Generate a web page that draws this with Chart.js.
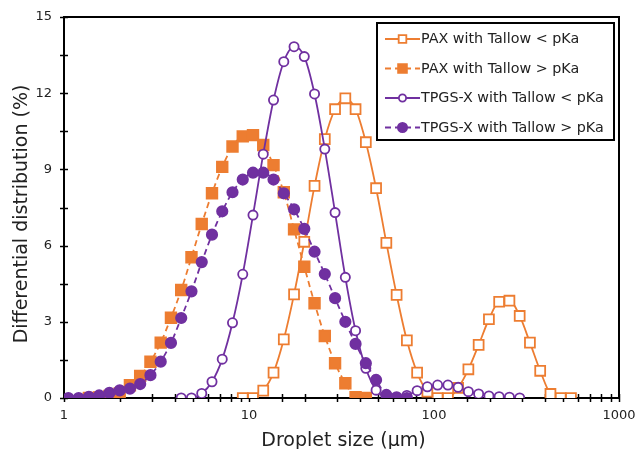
<!DOCTYPE html>
<html><head><meta charset="utf-8">
<script src="https://cdn.jsdelivr.net/npm/chart.js@4/dist/chart.umd.min.js"></script>
<style>html,body{margin:0;padding:0;background:#fff}</style>
</head><body>
<canvas id="c" width="638" height="449"></canvas>
<script>
// Droplet size bin centres (µm)
const sizes = [1.056,1.200,1.363,1.549,1.760,2.000,2.272,2.581,2.933,3.332,3.786,4.301,4.887,5.553,6.309,7.168,8.144,9.252,10.51,11.94,13.57,15.42,17.52,19.90,22.61,25.69,29.19,33.17,37.67,42.81,48.64,55.26,62.79,71.34,81.05,92.07,104.6,118.9,135.0,153.4,174.3,198.1,225.0,255.7,290.5,330.0,375.0,426.1,484.1,550.0];

const paxBelow = [null,null,null,null,null,null,null,null,null,null,null,null,null,null,null,null,null,
  0,0,0.29,1.0,2.31,4.08,6.15,8.35,10.19,11.37,11.8,11.37,10.07,8.26,6.11,4.06,2.27,1.0,0.25,0,0,0.4,1.13,2.09,3.1,3.79,3.83,3.23,2.18,1.07,0.16,0,0];
const paxAbove = [null,null,
  0,0.02,0.08,0.18,0.5,0.87,1.43,2.18,3.16,4.25,5.54,6.85,8.06,9.1,9.9,10.3,10.35,9.96,9.17,8.1,6.64,5.17,3.73,2.44,1.37,0.58,0.03,0,
  null,null,null,null,null,null,null,null,null,null,null,null,null,null,null,null,null,null,null,null];
const tpgsBelow = [null,null,null,null,null,null,null,null,null,null,null,
  0,0,0.18,0.64,1.53,2.96,4.87,7.2,9.6,11.73,13.24,13.83,13.44,11.97,9.8,7.3,4.75,2.65,1.17,0.31,0.05,0.02,0.1,0.29,0.44,0.51,0.51,0.42,0.25,0.16,0.08,0.05,0.03,0,
  null,null,null,null,null];
const tpgsAbove = [0,0,0.05,0.1,0.2,0.3,0.37,0.55,0.9,1.43,2.17,3.15,4.2,5.35,6.43,7.35,8.1,8.6,8.87,8.87,8.6,8.06,7.43,6.66,5.76,4.88,3.93,3.0,2.13,1.37,0.71,0.12,0.03,0,
  null,null,null,null,null,null,null,null,null,null,null,null,null,null,null,null];

const seriesNames = ['PAX with Tallow < pKa','PAX with Tallow > pKa','TPGS-X with Tallow < pKa','TPGS-X with Tallow > pKa'];
const xTickLabels = [1,10,100,1000];
const yTicks = [0,3,6,9,12,15];
const xTitle = 'Droplet size (\u00b5m)';
const yTitle = 'Differential distribution (%)';

const ORANGE = '#ED7D31', PURPLE = '#7030A0';
const FONT = "'DejaVu Sans', Verdana, sans-serif";

function pts(arr){ return sizes.map((s,i)=>({x:s,y:arr[i]})); }

const styles = [
  {c:ORANGE, dash:[], ps:'rect', r:7, fill:'#fff', order:4},
  {c:ORANGE, dash:[6,4], ps:'rect', r:7.5, fill:ORANGE, order:3},
  {c:PURPLE, dash:[], ps:'circle', r:4.6, fill:'#fff', order:2},
  {c:PURPLE, dash:[6,4], ps:'circle', r:5.2, fill:PURPLE, order:1}
];
const allData = [paxBelow, paxAbove, tpgsBelow, tpgsAbove];

const datasets = allData.map((d,i)=>({
  label: seriesNames[i],
  data: pts(d),
  borderColor: styles[i].c,
  backgroundColor: styles[i].fill,
  borderWidth: 1.8,
  borderDash: styles[i].dash,
  pointStyle: styles[i].ps,
  pointRadius: styles[i].r,
  pointHoverRadius: styles[i].r,
  pointBorderColor: styles[i].c,
  pointBackgroundColor: styles[i].fill,
  pointBorderWidth: 1.8,
  cubicInterpolationMode: 'monotone',
  spanGaps: false,
  order: styles[i].order
}));

const decor = {
  id: 'decor',
  beforeDatasetsDraw(chart){
    const ctx = chart.ctx, a = chart.chartArea;
    const xs = chart.scales.x, ys = chart.scales.y;
    ctx.save();
    ctx.strokeStyle = '#000';
    ctx.lineWidth = 1.5;
    xs.ticks.forEach(t=>{
      const px = Math.round(xs.getPixelForValue(t.value))+0.5;
      ctx.beginPath(); ctx.moveTo(px, a.bottom-4); ctx.lineTo(px, a.bottom+4); ctx.stroke();
    });
    for (let v=0; v<=15.001; v+=1.5){
      const py = Math.round(ys.getPixelForValue(v))+0.5;
      ctx.beginPath(); ctx.moveTo(a.left-4, py); ctx.lineTo(a.left+4, py); ctx.stroke();
    }
    ctx.lineWidth = 2;
    ctx.strokeRect(a.left, a.top, a.right-a.left, a.bottom-a.top);
    ctx.restore();
  },
  afterDraw(chart){
    const ctx = chart.ctx;
    ctx.save();
    ctx.fillStyle = '#222';
    ctx.font = '19px ' + FONT;
    ctx.textAlign = 'center'; ctx.textBaseline = 'alphabetic';
    ctx.fillText(xTitle, 343.5, 446);
    ctx.translate(27, 214); ctx.rotate(-Math.PI/2);
    ctx.fillText(yTitle, 0, 0);
    ctx.restore();
    // legend
    ctx.save();
    const L = 377, T = 23, R = 614, B = 140;
    ctx.fillStyle = '#fff';
    ctx.fillRect(L, T, R-L, B-T);
    ctx.strokeStyle = '#000'; ctx.lineWidth = 2;
    ctx.strokeRect(L, T, R-L, B-T);
    const rows = [39, 68.5, 98, 127.5];
    const lr = [5.4, 6.2, 3.6, 4.6];
    chart.data.datasets.forEach((ds,i)=>{
      const y = rows[i];
      ctx.strokeStyle = ds.borderColor; ctx.lineWidth = 1.8;
      ctx.setLineDash(ds.borderDash);
      ctx.beginPath(); ctx.moveTo(385, y); ctx.lineTo(420, y); ctx.stroke();
      ctx.setLineDash([]);
      ctx.fillStyle = ds.pointBackgroundColor; ctx.strokeStyle = ds.pointBorderColor; ctx.lineWidth = 1.8;
      Chart.helpers.drawPoint(ctx, {pointStyle: ds.pointStyle, radius: lr[i], borderWidth: 1.8, rotation: 0}, 402.5, y);
      ctx.fillStyle = '#222';
      ctx.font = '14.3px ' + FONT;
      ctx.textAlign = 'left'; ctx.textBaseline = 'middle';
      ctx.fillText(ds.label, 421, y+0.5);
    });
    ctx.restore();
  }
};

new Chart(document.getElementById('c'), {
  type: 'line',
  data: { datasets },
  options: {
    responsive: false,
    animation: false,
    layout: { padding: { left: 0, top: 17, right: 19, bottom: 0 } },
    plugins: { legend: { display: false }, tooltip: { enabled: false } },
    scales: {
      x: {
        type: 'logarithmic', min: 1, max: 1000,
        border: { display: true, color: '#000', width: 2 },
        grid: { display: false, drawTicks: false },
        ticks: {
          autoSkip: false, maxRotation: 0, padding: 10,
          color: '#222', font: { family: FONT, size: 13 },
          callback: (v)=> xTickLabels.includes(v) ? String(v) : ''
        },
        afterFit: (s)=>{ s.height = 51; s.paddingLeft = 0; s.paddingRight = 0; }
      },
      y: {
        min: 0, max: 15,
        border: { display: true, color: '#000', width: 2 },
        grid: { display: false, drawTicks: false },
        afterBuildTicks: (s)=>{ s.ticks = yTicks.map(v=>({value:v})); },
        ticks: { padding: 12, color: '#222', font: { family: FONT, size: 13 } },
        afterFit: (s)=>{ s.width = 64; s.paddingTop = 0; s.paddingBottom = 0; }
      }
    }
  },
  plugins: [decor]
});
</script>
</body></html>
